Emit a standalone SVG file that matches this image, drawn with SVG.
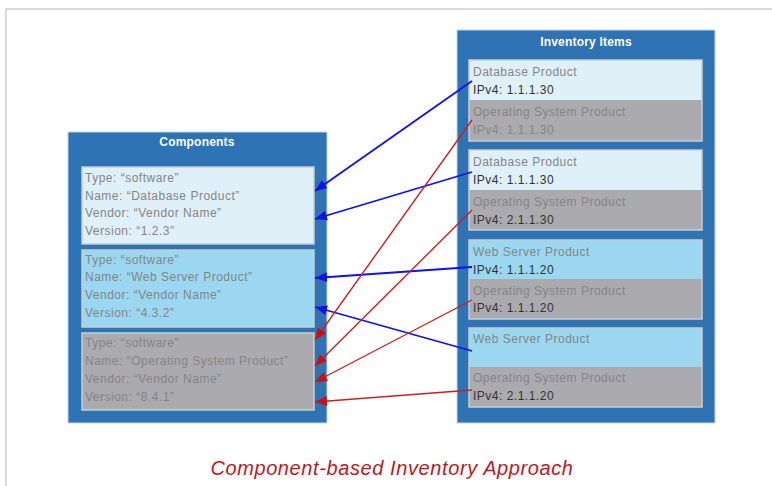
<svg xmlns="http://www.w3.org/2000/svg" width="772" height="486" viewBox="0 0 772 486">
<defs>
<style>
.panel{fill:#2E73B4;stroke:#c8d4e0;stroke-width:1}
.ptitle{font-family:"Liberation Sans",Arial,sans-serif;font-weight:bold;font-size:12px;letter-spacing:0.2px;fill:#ffffff;text-anchor:middle}
.light{fill:#E0F0F8}
.web{fill:#9BD7F0}
.gray{fill:#ABAAAE}
.box{stroke:#c9ccd0;stroke-width:1.5}
.t{font-family:"Liberation Sans",Arial,sans-serif;font-size:12px;fill:#858585;letter-spacing:0.5px}
.ip{font-family:"Liberation Sans",Arial,sans-serif;font-size:12px;fill:#333333;letter-spacing:0.5px}
.blue{stroke:#1010F0;stroke-width:1.8;fill:none;marker-end:url(#ab)}
.red{stroke:#CC2020;stroke-width:1.4;fill:none;marker-end:url(#ar)}
</style>
<marker id="ab" viewBox="0 0 12 10" refX="12" refY="5" markerWidth="12" markerHeight="10" markerUnits="userSpaceOnUse" orient="auto"><path d="M0,0 L12,5 L0,10 Z" fill="#1010F0"/></marker>
<marker id="ar" viewBox="0 0 12 10" refX="12" refY="5" markerWidth="12" markerHeight="10" markerUnits="userSpaceOnUse" orient="auto"><path d="M0,0 L12,5 L0,10 Z" fill="#CC1010"/></marker>
</defs>
<rect width="772" height="486" fill="#ffffff"/>
<path d="M6,486 V9 H772" fill="none" stroke="#d9d9d9" stroke-width="2"/>

<g id="components">
<rect class="panel" x="68" y="132" width="259" height="291"/>
<text class="ptitle" x="197" y="146">Components</text>
<g id="comp-db">
<rect class="light box" x="82" y="167" width="232" height="77"/>
<text class="t" x="85" y="182">Type: “software”</text>
<text class="t" x="85" y="200">Name: “Database Product”</text>
<text class="t" x="85" y="217">Vendor: “Vendor Name”</text>
<text class="t" x="85" y="235">Version: “1.2.3”</text>
</g>
<g id="comp-web">
<rect class="web box" x="82" y="250" width="232" height="77"/>
<text class="t" x="85" y="264">Type: “software”</text>
<text class="t" x="85" y="281">Name: “Web Server Product”</text>
<text class="t" x="85" y="299">Vendor: “Vendor Name”</text>
<text class="t" x="85" y="317">Version: “4.3.2”</text>
</g>
<g id="comp-os">
<rect class="gray box" x="82" y="333" width="232" height="77"/>
<text class="t" x="85" y="347">Type: “software”</text>
<text class="t" x="85" y="365">Name: “Operating System Product”</text>
<text class="t" x="85" y="383">Vendor: “Vendor Name”</text>
<text class="t" x="85" y="401">Version: “8.4.1”</text>
</g>
</g>

<g id="inventory">
<rect class="panel" x="457" y="30" width="258" height="393"/>
<text class="ptitle" x="586" y="46">Inventory Items</text>
<g id="inv1">
<rect class="light" x="469" y="60" width="233" height="40"/>
<rect class="gray" x="469" y="100" width="233" height="41"/>
<rect x="469" y="60" width="233" height="81" fill="none" class="box"/>
<text class="t" x="473" y="76">Database Product</text>
<text class="ip" x="473" y="94">IPv4: 1.1.1.30</text>
<text class="t" x="473" y="116">Operating System Product</text>
<text class="t" x="473" y="134">IPv4: 1.1.1.30</text>
</g>
<g id="inv2">
<rect class="light" x="469" y="150" width="233" height="40"/>
<rect class="gray" x="469" y="190" width="233" height="40"/>
<rect x="469" y="150" width="233" height="80" fill="none" class="box"/>
<text class="t" x="473" y="166">Database Product</text>
<text class="ip" x="473" y="184">IPv4: 1.1.1.30</text>
<text class="t" x="473" y="206">Operating System Product</text>
<text class="ip" x="473" y="224">IPv4: 2.1.1.30</text>
</g>
<g id="inv3">
<rect class="web" x="469" y="240" width="233" height="39"/>
<rect class="gray" x="469" y="279" width="233" height="40"/>
<rect x="469" y="240" width="233" height="79" fill="none" class="box"/>
<text class="t" x="473" y="256">Web Server Product</text>
<text class="ip" x="473" y="274">IPv4: 1.1.1.20</text>
<text class="t" x="473" y="295">Operating System Product</text>
<text class="ip" x="473" y="312">IPv4: 1.1.1.20</text>
</g>
<g id="inv4">
<rect class="web" x="469" y="328" width="233" height="39"/>
<rect class="gray" x="469" y="367" width="233" height="40"/>
<rect x="469" y="328" width="233" height="79" fill="none" class="box"/>
<text class="t" x="473" y="343">Web Server Product</text>
<text class="t" x="473" y="382">Operating System Product</text>
<text class="ip" x="473" y="400">IPv4: 2.1.1.20</text>
</g>
</g>

<g id="connectors">
<line class="blue" x1="472" y1="81" x2="315" y2="191"/>
<line class="blue" x1="472" y1="172" x2="315" y2="219"/>
<line class="blue" x1="472" y1="267" x2="315" y2="278"/>
<line class="blue" x1="472" y1="351" x2="315" y2="307"/>
<line class="red" x1="472" y1="120" x2="315" y2="340"/>
<line class="red" x1="472" y1="210" x2="315" y2="366"/>
<line class="red" x1="472" y1="300" x2="315" y2="382"/>
<line class="red" x1="472" y1="390" x2="315" y2="402"/>
</g>

<text x="392" y="475" font-family="Liberation Sans, Arial, sans-serif" font-style="italic" font-size="20" letter-spacing="0.6" fill="#C0161C" text-anchor="middle">Component-based Inventory Approach</text>
</svg>
